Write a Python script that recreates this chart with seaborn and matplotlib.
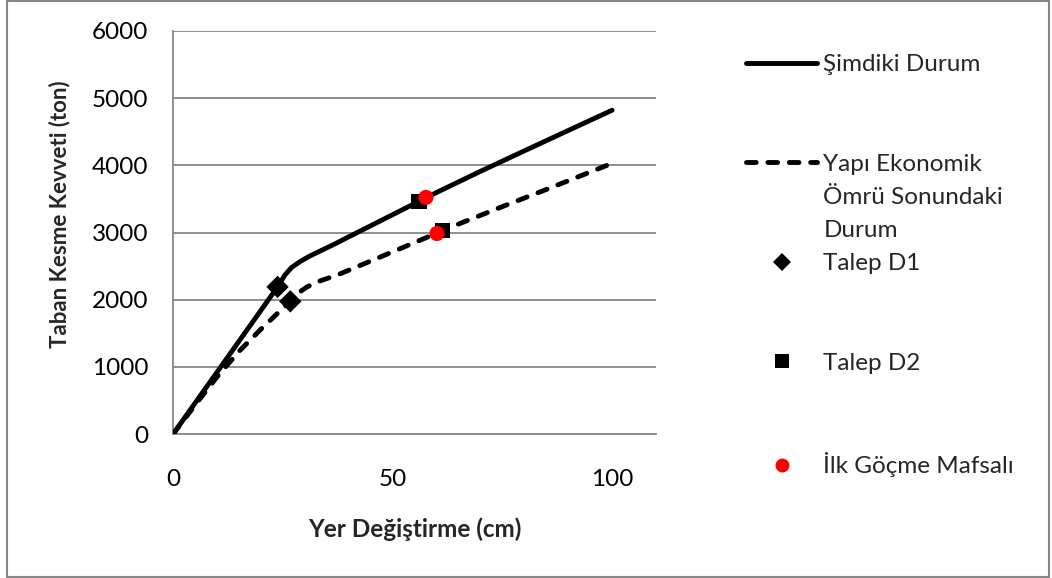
import matplotlib
matplotlib.use("Agg")
import matplotlib.pyplot as plt
from matplotlib.lines import Line2D
from matplotlib.patches import Rectangle
import seaborn as sns

# ---- data ----
now_x = [0, 5, 10, 15, 20, 24, 25.5, 27, 29, 31, 34, 37, 40, 50, 60, 70, 80, 90, 100]
now_y = [0, 460, 920, 1380, 1840, 2210, 2370, 2480, 2570, 2645, 2740, 2835, 2935, 3265, 3595, 3910, 4215, 4518, 4820]

end_x = [0, 5, 10, 15, 20, 24, 26.7, 28.5, 30.5, 33.5, 37.5, 45, 55, 65, 75, 85, 100]
end_y = [0, 430, 850, 1230, 1560, 1810, 1970, 2100, 2190, 2280, 2370, 2575, 2850, 3125, 3385, 3640, 4030]

d1_x = [23.8, 26.7]
d1_y = [2190, 1975]
d2_x = [56.0, 61.3]
d2_y = [3463, 3030]
hinge_x = [57.6, 60.1]
hinge_y = [3522, 2985]

x_ticks = [0, 50, 100]
y_ticks = [0, 1000, 2000, 3000, 4000, 5000, 6000]

labels = ["Şimdiki Durum", "Yapı Ekonomik", "Ömrü Sonundaki", "Durum",
          "Talep D1", "Talep D2", "İlk Göçme Mafsalı"]

# ---- style ----
sns.set_theme(style="white")
plt.rcParams['font.family'] = ['Lato', 'DejaVu Sans']

fig = plt.figure(figsize=(10.52, 5.78), dpi=100)
ax = fig.add_axes([0.1645, 0.249, 0.4591, 0.6975])

grid_c = "#878787"
lw = 3.5
fs = 17.5

sns.lineplot(x=now_x, y=now_y, ax=ax, color="black", lw=lw, estimator=None,
             sort=False, solid_capstyle="round", solid_joinstyle="round", zorder=3)
sns.lineplot(x=end_x, y=end_y, ax=ax, color="black", lw=lw, estimator=None,
             sort=False, linestyle=(0, (2.0, 2.4)), dash_capstyle="round", zorder=3)

sns.scatterplot(x=d1_x, y=d1_y, ax=ax, marker="D", s=130, color="black",
                edgecolor="none", linewidth=0, zorder=4)
sns.scatterplot(x=d2_x, y=d2_y, ax=ax, marker="s", s=120, color="black",
                edgecolor="none", linewidth=0, zorder=4)
sns.scatterplot(x=hinge_x, y=hinge_y, ax=ax, marker="o", s=120, color="#ff0000",
                edgecolor="none", linewidth=0, zorder=5)

ax.set_xlim(0, 110)
ax.set_ylim(0, 6000)
ax.set_xticks(x_ticks)
ax.set_yticks(y_ticks)
ax.tick_params(axis="both", length=0, labelsize=fs, colors="black")
ax.tick_params(axis="x", pad=25)
ax.tick_params(axis="y", pad=18)

ax.yaxis.grid(True, color=grid_c, lw=1.3)
ax.xaxis.grid(False)
for s in ["top", "right"]:
    ax.spines[s].set_visible(False)
for s in ["left", "bottom"]:
    ax.spines[s].set_color(grid_c)
    ax.spines[s].set_linewidth(1.3)
ax.set_axisbelow(True)

ax.set_xlabel("Yer Değiştirme (cm)", fontsize=17.5, fontweight="bold", labelpad=20)
ax.set_ylabel("Taban Kesme Kevveti (ton)", fontsize=16, fontweight="bold")
ax.yaxis.set_label_coords(-0.212, 0.546)

# ---- legend (rows on a regular grid, like the original) ----
blank = Line2D([], [], color="none")
h_now = Line2D([], [], color="black", lw=lw, solid_capstyle="round")
h_end = Line2D([], [], color="black", lw=lw, linestyle=(0, (2.0, 2.4)), dash_capstyle="round")
h_d1 = Line2D([], [], color="black", marker="D", ls="none", markersize=9, markeredgewidth=0)
h_d2 = Line2D([], [], color="black", marker="s", ls="none", markersize=10, markeredgewidth=0)
h_h = Line2D([], [], color="#ff0000", marker="o", ls="none", markersize=10, markeredgewidth=0)

handles = [h_now, blank, blank, h_end, blank, blank, h_d1, blank, blank, h_d2, blank, blank, h_h]
leg_labels = [labels[0], " ", " ", labels[1], labels[2], labels[3], labels[4], " ", " ",
              labels[5], " ", " ", labels[6]]
leg = fig.legend(handles, leg_labels, loc="upper left", bbox_to_anchor=(0.7095, 0.906),
                 frameon=False, fontsize=fs, handlelength=2.92, handletextpad=0.25,
                 labelspacing=0.50, borderpad=0, borderaxespad=0)

# outer chart border
fig.patches.append(Rectangle((0.0067, 0.0017), 0.9905, 0.9965, transform=fig.transFigure,
                             fill=False, edgecolor=grid_c, lw=1.5))

fig.savefig("out.png", dpi=100)
